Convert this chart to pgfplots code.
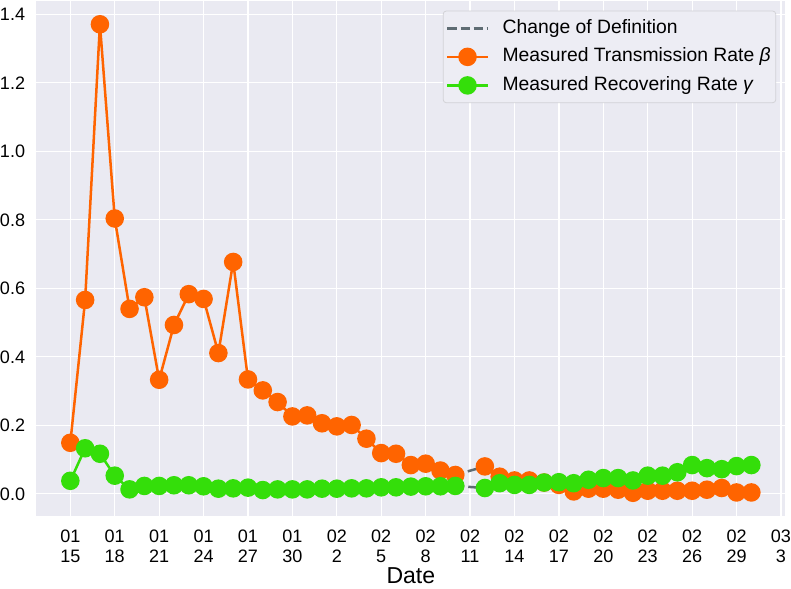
\documentclass[border=0pt]{standalone}
\usepackage{fontspec}
\setmainfont{Liberation Sans}
\usepackage{pgfplots}
\pgfplotsset{compat=1.18}

\definecolor{bg}{RGB}{234,234,242}
\definecolor{legbg}{RGB}{237,237,244}
\definecolor{betaorange}{RGB}{255,100,0}
\definecolor{gammagreen}{RGB}{52,222,10}
\definecolor{defgray}{RGB}{95,108,115}
\definecolor{legedge}{RGB}{210,210,214}

\newcommand{\tickfont}{\fontsize{18bp}{20.7bp}\selectfont}

\begin{document}
\begin{tikzpicture}
\begin{axis}[
  scale only axis,
  width=748bp, height=515bp,
  xmin=-2.3, xmax=48.3,
  ymin=-0.066, ymax=1.44,
  axis background/.style={fill=bg},
  axis line style={draw=none},
  tick style={draw=none},
  grid=major,
  major grid style={white, line width=1.3bp},
  xtick={0,3,6,9,12,15,18,21,24,27,30,33,36,39,42,45,48},
  xticklabels={{01\\15},{01\\18},{01\\21},{01\\24},{01\\27},{01\\30},{02\\2},{02\\5},{02\\8},{02\\11},{02\\14},{02\\17},{02\\20},{02\\23},{02\\26},{02\\29},{03\\3}},
  xticklabel style={font=\tickfont, align=center, inner sep=0pt, anchor=north, yshift=-13bp},
  ytick={0,0.2,0.4,0.6,0.8,1.0,1.2,1.4},
  yticklabel style={font=\tickfont, inner sep=0pt, anchor=east, xshift=-11bp,
    /pgf/number format/fixed, /pgf/number format/fixed zerofill,
    /pgf/number format/precision=1},
  /pgf/number format/assume math mode=true,
  xlabel={Date},
  xlabel style={font=\fontsize{23bp}{26bp}\selectfont, inner sep=0pt,
    text depth=5bp, yshift=-4bp},
  unbounded coords=jump,
  legend cell align=left,
  legend style={at={(0.9876,0.9806)}, anchor=north east,
    fill=legbg, draw=legedge, line width=0.8bp, rounded corners=3bp,
    font=\fontsize{19.3bp}{21bp}\selectfont,
    inner xsep=3bp, inner ysep=6bp, row sep=6bp,
    nodes={inner sep=2bp, text height=14bp, text depth=4.5bp}},
  legend image code/.code={
    \pgfpathmoveto{\pgfqpoint{53bp}{0bp}}\pgfusepath{discard}
    \draw[mark repeat=2, mark phase=2, #1]
      plot coordinates {(0bp,0bp) (20bp,0bp) (40bp,0bp)};},
]

% change of definition: gap between 02-10 and 02-12
\addplot[defgray, line width=2.5bp, dash pattern=on 9bp off 4bp]
  coordinates {(26,0.055) (28,0.080)};
\addlegendentry{Change of Definition}
\addplot[defgray, line width=2.5bp, dash pattern=on 9bp off 4bp, forget plot]
  coordinates {(26,0.023) (28,0.017)};

% transmission rate beta
\addplot[betaorange, line width=2.5bp, mark=*, mark size=8bp,
  mark options={solid, fill=betaorange, draw=betaorange}]
  coordinates {
  (0,0.149) (1,0.566) (2,1.371) (3,0.804) (4,0.540) (5,0.574) (6,0.333)
  (7,0.493) (8,0.583) (9,0.569) (10,0.411) (11,0.677) (12,0.334) (13,0.302)
  (14,0.268) (15,0.226) (16,0.229) (17,0.206) (18,0.197) (19,0.201) (20,0.161)
  (21,0.119) (22,0.117) (23,0.084) (24,0.088) (25,0.068) (26,0.055)
  (27,nan)
  (28,0.080) (29,0.050) (30,0.039) (31,0.039) (32,0.033) (33,0.026) (34,0.007)
  (35,0.015) (36,0.015) (37,0.012) (38,0.003) (39,0.009) (40,0.009) (41,0.009)
  (42,0.009) (43,0.012) (44,0.017) (45,0.004) (46,0.004)
  };
\addlegendentry{Measured Transmission Rate \textit{β}}

% recovering rate gamma
\addplot[gammagreen, line width=2.5bp, mark=*, mark size=8bp,
  mark options={solid, fill=gammagreen, draw=gammagreen}]
  coordinates {
  (0,0.038) (1,0.133) (2,0.117) (3,0.053) (4,0.013) (5,0.023) (6,0.023)
  (7,0.025) (8,0.025) (9,0.022) (10,0.015) (11,0.016) (12,0.018) (13,0.011)
  (14,0.013) (15,0.013) (16,0.013) (17,0.015) (18,0.015) (19,0.016) (20,0.016)
  (21,0.019) (22,0.019) (23,0.021) (24,0.022) (25,0.022) (26,0.023)
  (27,nan)
  (28,0.017) (29,0.031) (30,0.026) (31,0.026) (32,0.033) (33,0.034) (34,0.031)
  (35,0.041) (36,0.046) (37,0.046) (38,0.039) (39,0.053) (40,0.053) (41,0.063)
  (42,0.084) (43,0.075) (44,0.072) (45,0.081) (46,0.084)
  };
\addlegendentry{Measured Recovering Rate \textit{γ}}
\end{axis}
\end{tikzpicture}
\end{document}
